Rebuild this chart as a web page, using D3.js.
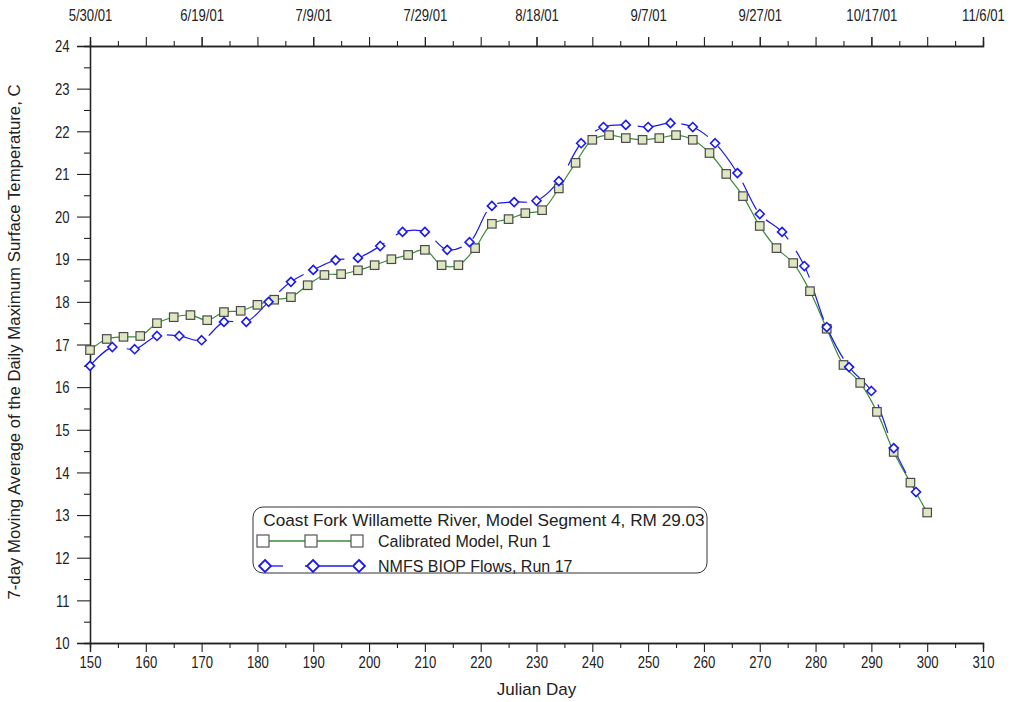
<!DOCTYPE html>
<html>
<head>
<meta charset="utf-8">
<script src="https://cdn.jsdelivr.net/npm/d3@7"></script>
<style>
  html, body { margin: 0; padding: 0; background: #ffffff; }
  svg { display: block; }
  text { font-family: "Liberation Sans", Arial, sans-serif; fill: #222; }
</style>
</head>
<body>
<svg id="chart" width="1014" height="702"></svg>
<script>
// Calibrated model, Run 1 (Julian day, 7-day mean of daily max temperature, C)
const calDays = [150,153,156,159,162,165,168,171,174,177,180,183,186,189,192,195,198,201,204,207,
                 210,213,216,219,222,225,228,231,234,237,240,243,246,249,252,255,258,261,264,267,
                 270,273,276,279,282,285,288,291,294,297,300];
const calTemp = [16.87,17.13,17.18,17.20,17.50,17.64,17.69,17.57,17.76,17.79,17.93,18.05,18.11,18.39,18.63,18.65,18.74,18.86,19.00,19.10,
                 19.22,18.86,18.86,19.26,19.83,19.94,20.08,20.15,20.66,21.26,21.80,21.91,21.84,21.80,21.84,21.91,21.80,21.49,21.00,20.48,
                 19.78,19.26,18.91,18.25,17.37,16.52,16.10,15.42,14.48,13.76,13.06];

// NMFS BIOP flows, Run 17
const biopDays = [150,154,158,162,166,170,174,178,182,186,190,194,198,202,206,210,214,218,222,226,
                  230,234,238,242,246,250,254,258,262,266,270,274,278,282,286,290,294,298];
const biopTemp = [16.50,16.94,16.89,17.20,17.20,17.10,17.53,17.53,18.00,18.47,18.75,18.98,19.03,19.31,19.64,19.64,19.22,19.40,20.25,20.34,
                  20.37,20.83,21.72,22.10,22.15,22.10,22.19,22.10,21.72,21.02,20.06,19.64,18.84,17.41,16.47,15.91,14.57,13.54];

// Axis ticks and labels
const xTicks = [150,160,170,180,190,200,210,220,230,240,250,260,270,280,290,300,310];
const yTicks = [10,11,12,13,14,15,16,17,18,19,20,21,22,23,24];
const dateTicks = [150,170,190,210,230,250,270,290,310];
const dateLabels = ["5/30/01","6/19/01","7/9/01","7/29/01","8/18/01","9/7/01","9/27/01","10/17/01","11/6/01"];

const legendTitle = "Coast Fork Willamette River, Model Segment 4, RM 29.03";
const seriesNames = ["Calibrated Model, Run 1", "NMFS BIOP Flows, Run 17"];

const svg = d3.select("#chart");
const m = { left: 90, right: 983, top: 46, bottom: 643 };

const x = d3.scaleLinear().domain([150, 310]).range([m.left, m.right]);
const y = d3.scaleLinear().domain([10, 24]).range([m.bottom, m.top]);

const axisColor = "#222";
const narrow = "scale(0.82,1)";

function styleAxis(g) {
  g.select(".domain").attr("stroke", axisColor).attr("stroke-width", 1.3);
  g.selectAll(".tick line").attr("stroke", axisColor).attr("stroke-width", 1.1);
  g.selectAll("text").attr("font-size", 16).attr("fill", "#222")
    .attr("font-family", "'Liberation Sans', Arial, sans-serif");
}

// minor ticks (every 5 days / every 0.5 C)
const xMinor = d3.range(155, 310, 10);
const yMinor = d3.range(10.5, 24, 1);

svg.append("g").attr("transform", `translate(0,${m.bottom})`)
  .call(d3.axisBottom(x).tickValues(xMinor).tickSize(5).tickFormat(""))
  .call(styleAxis);
const gx = svg.append("g").attr("transform", `translate(0,${m.bottom})`)
  .call(d3.axisBottom(x).tickValues(xTicks).tickSize(9).tickPadding(5).tickFormat(d3.format("d")))
  .call(styleAxis);
gx.selectAll("text").attr("transform", narrow);

svg.append("g").attr("transform", `translate(${m.left},0)`)
  .call(d3.axisLeft(y).tickValues(yMinor).tickSize(6).tickFormat(""))
  .call(styleAxis);
const gy = svg.append("g").attr("transform", `translate(${m.left},0)`)
  .call(d3.axisLeft(y).tickValues(yTicks).tickSize(13).tickPadding(12).tickFormat(d3.format("d")))
  .call(styleAxis);
gy.selectAll("text").attr("transform", narrow).attr("dy", "0.36em");

// top date axis
svg.append("g").attr("transform", `translate(0,${m.top})`)
  .call(d3.axisTop(x).tickValues(d3.range(155, 310, 10)).tickSize(5).tickFormat(""))
  .call(styleAxis);
svg.append("g").attr("transform", `translate(0,${m.top})`)
  .call(d3.axisTop(x).tickValues(d3.range(150, 311, 10)).tickSize(9).tickFormat(""))
  .call(styleAxis);
const gtl = svg.append("g").attr("transform", `translate(0,${m.top})`)
  .call(d3.axisTop(x).tickValues(dateTicks).tickSize(9).tickPadding(16)
        .tickFormat((d, i) => dateLabels[i]))
  .call(styleAxis);
gtl.select(".domain").remove();
gtl.selectAll("text").attr("transform", narrow);

// axis titles
svg.append("text")
  .attr("x", (m.left + m.right) / 2).attr("y", 695)
  .attr("text-anchor", "middle").attr("font-size", 17)
  .text("Julian Day");

svg.append("text")
  .attr("transform", `translate(20,342) rotate(-90)`)
  .attr("text-anchor", "middle").attr("font-size", 16.8)
  .text("7-day Moving Average of the Daily Maximum Surface Temperature, C");

// series
const plot = svg.append("g");
const greenLine = "#3a8a3a";
const blue = "#1a1aee";

const calData = calDays.map((d, i) => [d, calTemp[i]]);
const biopData = biopDays.map((d, i) => [d, biopTemp[i]]);

const line = d3.line().x(d => x(d[0])).y(d => y(d[1])).curve(d3.curveCatmullRom.alpha(0.5));

plot.append("path").datum(calData)
  .attr("d", line).attr("fill", "none")
  .attr("stroke", greenLine).attr("stroke-width", 1.2);

plot.append("path").datum(biopData)
  .attr("d", line).attr("fill", "none")
  .attr("stroke", blue).attr("stroke-width", 1.2)
  .attr("stroke-dasharray", "30,14");

const sq = 8.5;
plot.selectAll("rect.cal").data(calData).join("rect")
  .attr("class", "cal")
  .attr("x", d => x(d[0]) - sq / 2).attr("y", d => y(d[1]) - sq / 2)
  .attr("width", sq).attr("height", sq)
  .attr("fill", "#dfe7c2").attr("stroke", "#4a4a4a").attr("stroke-width", 1.2);

const diamond = (cx, cy, r) => `M${cx},${cy - r}L${cx + r},${cy}L${cx},${cy + r}L${cx - r},${cy}Z`;
plot.selectAll("path.biop").data(biopData).join("path")
  .attr("class", "biop")
  .attr("d", d => diamond(x(d[0]), y(d[1]), 4.5))
  .attr("fill", "#ffffff").attr("stroke", blue).attr("stroke-width", 1.6);

// legend
const lg = svg.append("g");
lg.append("rect")
  .attr("x", 253).attr("y", 507).attr("width", 454).attr("height", 66)
  .attr("rx", 10).attr("ry", 10)
  .attr("fill", "#ffffff").attr("stroke", "#333").attr("stroke-width", 1);
lg.append("text").attr("x", 484).attr("y", 526).attr("text-anchor", "middle")
  .attr("font-size", 17.2).text(legendTitle);

const sx = [263, 311, 357];
lg.append("line").attr("x1", sx[0]).attr("x2", sx[2]).attr("y1", 541).attr("y2", 541)
  .attr("stroke", greenLine).attr("stroke-width", 1.3);
sx.forEach(cx => lg.append("rect")
  .attr("x", cx - 6).attr("y", 535).attr("width", 12).attr("height", 12)
  .attr("fill", "#ffffff").attr("stroke", "#555").attr("stroke-width", 1.2));
lg.append("text").attr("x", 378).attr("y", 547).attr("font-size", 16).text(seriesNames[0]);

[[265, 283], [305, 352]].forEach(s => lg.append("line")
  .attr("x1", s[0]).attr("x2", s[1]).attr("y1", 566).attr("y2", 566)
  .attr("stroke", blue).attr("stroke-width", 1.3));
sx.forEach(cx => lg.append("path")
  .attr("d", diamond(cx + 2, 566, 6))
  .attr("fill", "#ffffff").attr("stroke", blue).attr("stroke-width", 1.8));
lg.append("text").attr("x", 378).attr("y", 572).attr("font-size", 16).text(seriesNames[1]);
</script>
</body>
</html>
